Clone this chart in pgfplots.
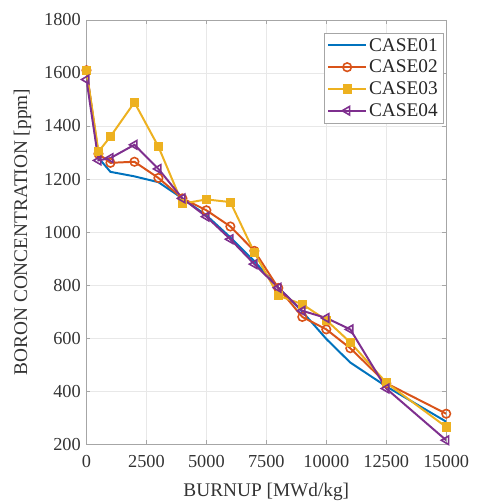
\documentclass[border=0pt]{standalone}
\usepackage{fontspec}
\setmainfont{Liberation Serif}
\usepackage{pgfplots}
\pgfplotsset{compat=1.18}

\definecolor{mblue}{rgb}{0,0.447,0.741}
\definecolor{morange}{rgb}{0.85,0.325,0.098}
\definecolor{myellow}{rgb}{0.929,0.694,0.125}
\definecolor{mpurple}{rgb}{0.494,0.184,0.556}
\definecolor{txt}{gray}{0.2}

\begin{document}
\begin{tikzpicture}
\begin{axis}[
    scale only axis,
    width=362bp, height=427bp,
    xmin=0, xmax=15000,
    ymin=200, ymax=1800,
    xtick={0,2500,...,15000},
    ytick={200,400,...,1800},
    scaled ticks=false,
    /pgf/number format/set thousands separator={},
    /pgf/number format/assume math mode=true,
    tick label style={font=\fontsize{18.5}{21}\selectfont, text=txt, inner sep=0.5bp},
    xticklabel style={yshift=-10bp},
    yticklabel style={xshift=-5bp},
    label style={font=\fontsize{19.5}{22}\selectfont, text=txt},
    xlabel={BURNUP [MWd/kg]},
    ylabel={BORON CONCENTRATION [ppm]},
    xlabel style={yshift=-12bp},
    ylabel style={yshift=9bp},
    grid=major,
    grid style={gray!18, line width=0.5pt},
    axis line style={gray!70},
    tick style={gray!70},
    tick align=inside,
    major tick length=4bp,
    legend style={at={(0.992,0.970)}, anchor=north east, draw=gray!70,
        font=\fontsize{19.5}{22}\selectfont, text=black!85,
        row sep=3.5bp, inner sep=3.5bp, cells={anchor=west}},
    legend image code/.code={%
        \draw[mark repeat=2, mark phase=2] plot coordinates {(0bp,0bp) (19bp,0bp) (38bp,0bp)};},
    every axis plot/.append style={line width=2pt},
]
\addplot[color=mblue] coordinates {
(0,1610) (500,1280) (1000,1227) (2000,1210) (3000,1188) (4000,1127) (5000,1063)
(6000,980) (7000,890) (8000,790) (9000,700) (10000,597) (11000,508) (12500,418) (15000,285)};
\addlegendentry{CASE01}

\addplot[color=morange, mark=o, mark size=4.3pt, mark options={line width=1.6pt}] coordinates {
(0,1610) (500,1295) (1000,1261) (2000,1265) (3000,1204) (4000,1127) (5000,1082)
(6000,1021) (7000,929) (8000,789) (9000,680) (10000,633) (11000,562) (12500,430) (15000,315)};
\addlegendentry{CASE02}

\addplot[color=myellow, mark=square*, mark size=3.6pt] coordinates {
(0,1610) (500,1303) (1000,1360) (2000,1489) (3000,1322) (4000,1107) (5000,1123)
(6000,1113) (7000,923) (8000,760) (9000,728) (10000,668) (11000,584) (12500,432) (15000,265)};
\addlegendentry{CASE03}

\addplot[color=mpurple, mark=triangle, mark size=5pt, mark options={rotate=90, line width=1.6pt}] coordinates {
(0,1575) (500,1270) (1000,1279) (2000,1329) (3000,1238) (4000,1127) (5000,1058)
(6000,973) (7000,879) (8000,790) (9000,703) (10000,676) (11000,633) (12500,410) (15000,215)};
\addlegendentry{CASE04}
\end{axis}
\path (current axis.south west) ++(-87bp,-57bp);
\path (current axis.north east) ++(30bp,20bp);
\end{tikzpicture}
\end{document}
